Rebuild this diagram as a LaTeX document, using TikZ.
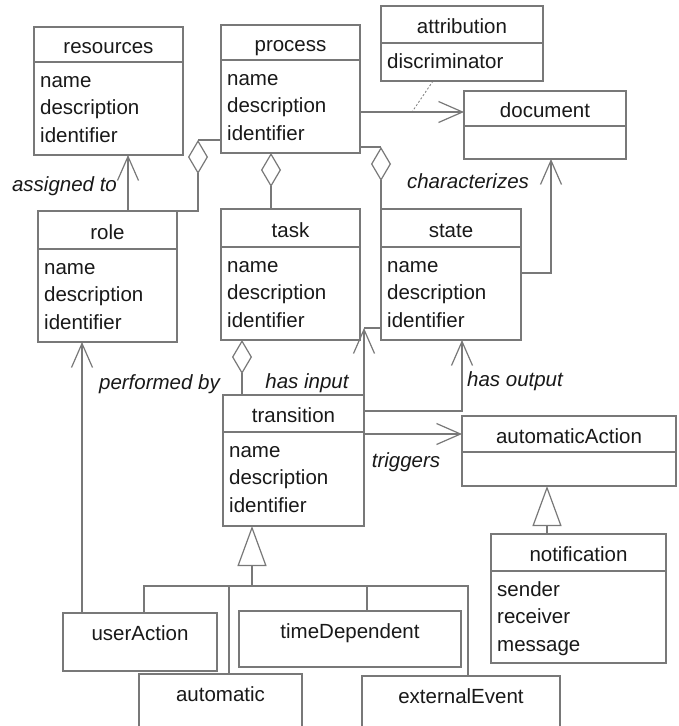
\documentclass[tikz,border=0pt]{standalone}
\usepackage{fontspec}
\setmainfont{Liberation Sans}
\usetikzlibrary{arrows.meta,fit,calc}
\definecolor{linegray}{RGB}{120,120,120}
\definecolor{inkdark}{RGB}{25,25,25}

\tikzset{
  box/.style={draw=linegray, line width=1.2pt, inner sep=0pt, outer sep=0pt},
  rule/.style={draw=linegray, line width=1.2pt},
  conn/.style={draw=linegray, line width=1.2pt},
  title/.style={anchor=base, inner sep=0pt, text=inkdark, font=\fontsize{20.5}{24}\selectfont},
  attr/.style={anchor=base west, inner sep=0pt, text=inkdark, font=\fontsize{20.5}{24}\selectfont},
  role label/.style={anchor=base, inner sep=0pt, text=inkdark, font=\itshape\fontsize{20.5}{24}\selectfont},
  assoc/.style={conn, -{Straight Barb[length=24pt,width=21pt]}},
  aggr/.style={conn, {Diamond[open,length=34pt,width=20pt]}-},
  gen/.style={conn, -{Triangle[open,length=40pt,width=29pt]}},
}

% class box: name, left, top, right, bottom, header bottom, title, attributes
\newcommand\umlclass[8]{%
  \node[box, fit={(#2,#3) (#4,#5)}] (#1) {};
  \draw[rule] (#2,#6) -- (#4,#6);
  \coordinate (#1-h) at (#2,{(#3+#6)/2});
  \node[title] (#1-t) at ({(#2+#4)/2},{(#3+#6)/2+9}) {#7};
  \if\relax\detokenize{#8}\relax\else
    \foreach \attrtext [count=\i] in {#8} {
      \node[attr] (#1-a\i) at ({#2+6},{#6+25+(\i-1)*27.8}) {\attrtext};
    }%
  \fi
}
% box with a title only: name, left, top, right, bottom, title
\newcommand\umlplain[6]{%
  \node[box, fit={(#2,#3) (#4,#5)}] (#1) {};
  \node[title] (#1-t) at ({(#2+#4)/2},{#3+27}) {#6};
}

\begin{document}
\begin{tikzpicture}[x=1pt,y=-1pt]
\useasboundingbox (0,0) rectangle (678,726);
\fill[white] (0,0) rectangle (678,726);
\clip (0,0) rectangle (678,726);

% classes
\umlclass{res}{34}{27}{183}{155}{62}{resources}{name,description,identifier}
\umlclass{proc}{221}{25}{360}{153}{60}{process}{name,description,identifier}
\umlclass{attr}{381}{6}{543}{81}{43}{attribution}{discriminator}
\umlclass{doc}{464}{91}{626}{159}{126}{document}{}
\umlclass{role}{38}{211}{177}{342}{249}{role}{name,description,identifier}
\umlclass{task}{221}{209}{360}{340}{247}{task}{name,description,identifier}
\umlclass{state}{381}{209}{521}{340}{247}{state}{name,description,identifier}
\umlclass{trans}{223}{395}{364}{526}{432}{transition}{name,description,identifier}
\umlclass{aa}{462}{416}{676}{486}{452}{automaticAction}{}
\umlclass{notif}{491}{534}{666}{663}{571}{notification}{sender,receiver,message}
\umlplain{ua}{63}{613}{217}{671}{userAction}
\umlplain{td}{239}{611}{461}{667}{timeDependent}
\umlplain{au}{139}{674}{302}{745}{automatic}
\umlplain{ee}{362}{676}{560}{745}{externalEvent}

% role -> resources
\coordinate (rl) at ([xshift=90pt]role.north west);
\draw[assoc] (rl) -- (rl |- res.south);

% process <>- role
\coordinate (pr) at ([yshift=13pt]proc.south west);
\coordinate (prk) at ([xshift=-23pt]pr);
\draw[conn] (pr) -- (prk);
\draw[aggr] (prk) |- (role.north east);

% process <>- task
\coordinate (pt) at ([xshift=50pt]proc.south west);
\draw[aggr] (pt) -- (pt |- task.north);

% process <>- state
\coordinate (ps) at ([yshift=6pt]proc.south east);
\draw[conn] (ps) -- (ps -| state.west);
\draw[aggr] (ps -| state.west) -- (state.north west);

% process -> document, with the attribution class
\coordinate (pd) at ([yshift=-21pt]doc.north west);
\draw[assoc] (pd -| proc.east) -- (pd);
\coordinate (pdm) at ($(pd -| proc.east)+(52,0)$);
\draw[conn, line width=0.8pt, dash pattern=on 2pt off 2pt] ([xshift=52pt]attr.south west) -- (pdm);

% state -> document
\coordinate (sd) at ([yshift=-64pt]state.north east);
\draw[assoc] (sd) -| ([xshift=87pt]doc.south west);

% task <>- transition
\coordinate (tt) at ([xshift=21pt]task.south west);
\draw[aggr] (tt) -- (tt |- trans.north);

% transition -> state (input)
\coordinate (hin) at ([yshift=-119pt]state.north west);
\draw[assoc] (trans.north east) -- (trans.north east |- hin);
\draw[conn] (trans.north east |- hin) -- (hin);

% transition -> state (output)
\draw[assoc] ([yshift=-16pt]trans.north east) -| ([xshift=81pt]state.south west);

% transition -> automaticAction
\draw[assoc] (aa-h -| trans.east) -- (aa-h);

% notification specialises automaticAction
\coordinate (na) at ([xshift=56pt]notif.north west);
\draw[gen] (na) -- (na |- aa.south);

% transition specialisations
\coordinate (bus) at ([xshift=29pt,yshift=-60pt]trans.south west);
\draw[gen] (bus) -- (bus |- trans.south);
\coordinate (c-ua) at ([xshift=81pt]ua.north west);
\coordinate (c-au) at ([xshift=90pt]au.north west);
\coordinate (c-td) at ([xshift=128pt]td.north west);
\coordinate (c-ee) at ([xshift=106pt]ee.north west);
\draw[conn] (c-ua) |- (bus);
\draw[conn] (c-ee) |- (bus);
\draw[conn] (c-au) -- (c-au |- bus);
\draw[conn] (c-td) -- (c-td |- bus);

% userAction -> role
\coordinate (pb) at ([xshift=19pt]ua.north west);
\draw[assoc] (pb) -- (pb |- role.south);

% association labels
\node[role label] (l-assigned) at (64.5,191) {assigned to};
\node[role label] (l-char) at (468,188) {characterizes};
\node[role label] (l-perf) at (159.5,389) {performed by};
\node[role label] (l-in) at (307,388) {has input};
\node[role label] (l-out) at (515,386) {has output};
\node[role label] (l-trig) at (406,467) {triggers};
\end{tikzpicture}
\end{document}
